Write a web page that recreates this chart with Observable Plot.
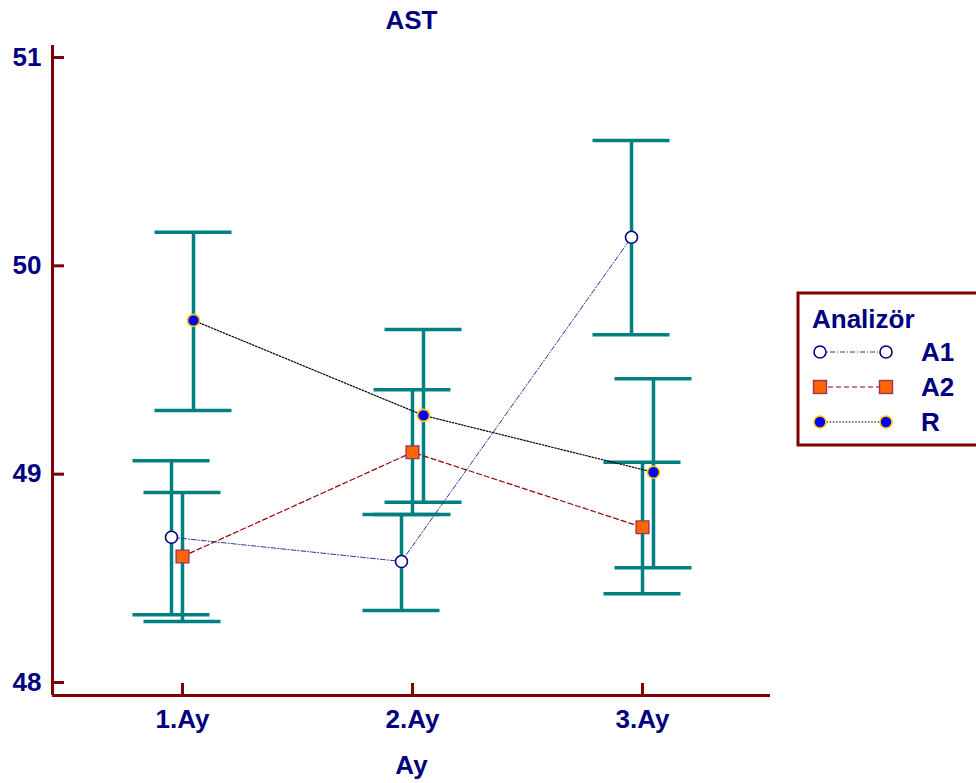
<!DOCTYPE html>
<html><head><meta charset="utf-8">
<script src="https://cdn.jsdelivr.net/npm/d3@7"></script>
<script src="https://cdn.jsdelivr.net/npm/@observablehq/plot@0.6"></script>
<style>
body{margin:0;background:#fff;}
#wrap{position:relative;width:976px;height:783px;overflow:hidden;background:#fff;}
#wrap svg{position:absolute;left:0;top:0;}
</style></head><body><div id="wrap"></div>
<script>
// ---- data ----
const months = ["1.Ay", "2.Ay", "3.Ay"];
const yTicks = [48, 49, 50, 51];
const seriesNames = ["A1", "A2", "R"];
const a1Mean = [48.697, 48.581, 50.137];
const a1Low  = [48.325, 48.346, 49.669];
const a1High = [49.064, 48.806, 50.602];
const a2Mean = [48.605, 49.105, 48.745];
const a2Low  = [48.293, 48.806, 48.426];
const a2High = [48.912, 49.405, 49.057];
const rMean  = [49.738, 49.282, 49.009];
const rLow   = [49.306, 48.865, 48.551];
const rHigh  = [50.161, 49.694, 49.458];
const titleText = "AST";
const xLabel = "Ay";
const legendTitle = "Analizör";

// ---- build tables ----
function table(mean, lo, hi, name) {
  return months.map((m, k) => ({i: k + 1, month: m, mean: mean[k], lo: lo[k], hi: hi[k], series: name}));
}
const data = {
  A1: table(a1Mean, a1Low, a1High, "A1"),
  A2: table(a2Mean, a2Low, a2High, "A2"),
  R: table(rMean, rLow, rHigh, "R")
};

// ---- styles ----
const navy = "#000080", axisRed = "#800000", teal = "#008080";
const fontFam = "Arial, 'Liberation Sans', Helvetica, sans-serif";
const style = {
  A1: {dx: -11, line: {stroke: "#3030a8", strokeWidth: 1, strokeDasharray: "5,2,1,2"},
       dot: {symbol: "circle", r: 6, fill: "white", stroke: navy, strokeWidth: 1.6}},
  A2: {dx: 0, line: {stroke: "#990000", strokeWidth: 1.2, strokeDasharray: "5,3"},
       dot: {symbol: "square", r: 7.2, fill: "#ff6600", stroke: "#993366", strokeWidth: 1.4}},
  R:  {dx: 11, line: {stroke: "#000000", strokeWidth: 1.2, strokeDasharray: "1.6,1.6"},
       dot: {symbol: "circle", r: 6, fill: "#0000ff", stroke: "#ffcc00", strokeWidth: 1.6}}
};

const W = 976, H = 783;
const mL = 52, mR = 206, mT = 45, mB = 88;
const step = 230;               // px between months
const firstX = 182;             // px of first month
const xDom = [1 - (firstX - mL) / step, 1 + (W - mR - firstX) / step];
const pxPerUnit = 208.33;
const yDom = [48 - (H - mB - 682) / pxPerUnit, 51 + (57 - mT) / pxPerUnit];
const capHalf = 38.5 / step;

const bars = [], lines = [], dots = [];
for (const s of seriesNames) {
  const st = style[s], d = data[s];
  const eb = {stroke: teal, strokeWidth: 3.5, dx: st.dx};
  bars.push(Plot.ruleX(d, {x: "i", y1: "lo", y2: "hi", ...eb}));
  bars.push(Plot.ruleY(d, {y: "lo", x1: r => r.i - capHalf, x2: r => r.i + capHalf, ...eb}));
  bars.push(Plot.ruleY(d, {y: "hi", x1: r => r.i - capHalf, x2: r => r.i + capHalf, ...eb}));
  lines.push(Plot.line(d, {x: "i", y: "mean", dx: st.dx, ...st.line}));
  dots.push(Plot.dot(d, {x: "i", y: "mean", dx: st.dx, ...st.dot}));
}

const txt = {fill: navy, fontWeight: "bold", fontFamily: fontFam};

const chart = Plot.plot({
  width: W, height: H,
  marginLeft: mL, marginRight: mR, marginTop: mT, marginBottom: mB,
  style: {fontFamily: fontFam, background: "white", overflow: "visible"},
  x: {type: "linear", domain: xDom},
  y: {type: "linear", domain: yDom},
  marks: [
    ...bars,
    ...lines,
    ...dots,
    Plot.ruleX([xDom[0]], {stroke: axisRed, strokeWidth: 3}),
    Plot.ruleY([yDom[0]], {stroke: axisRed, strokeWidth: 3}),
    Plot.axisY(yTicks, {tickSize: 12, dx: 12, fill: "none", stroke: axisRed, strokeWidth: 3, label: null}),
    Plot.axisY(yTicks, {tickSize: 0, tickPadding: 11, tickFormat: v => String(v), fontSize: 26, label: null, ...txt}),
    Plot.axisX([1, 2, 3], {tickSize: 12, dy: -12, fill: "none", stroke: axisRed, strokeWidth: 3, label: null}),
    Plot.axisX([1, 2, 3], {tickSize: 0, tickPadding: 14, tickFormat: v => months[v - 1], fontSize: 26, label: null, ...txt}),
    Plot.text([xLabel], {text: d => d, frameAnchor: "bottom", dy: 70, fontSize: 26, lineAnchor: "middle", ...txt}),
    Plot.text([titleText], {text: d => d, frameAnchor: "top", dy: -25, fontSize: 26, lineAnchor: "middle", ...txt})
  ]
});
document.getElementById("wrap").appendChild(chart);

// ---- legend ----
const lg = d3.select("#wrap").append("svg").attr("width", W).attr("height", H)
  .style("pointer-events", "none");
lg.append("rect").attr("x", 798).attr("y", 293).attr("width", 200).attr("height", 152)
  .attr("fill", "white").attr("stroke", axisRed).attr("stroke-width", 3);
lg.append("text").attr("x", 812).attr("y", 328).text(legendTitle)
  .attr("fill", navy).attr("font-weight", "bold").attr("font-size", 26).attr("font-family", fontFam);
seriesNames.forEach((s, k) => {
  const st = style[s], y = 352 + k * 35;
  const g = lg.append("g");
  g.append("line").attr("x1", 820).attr("x2", 886).attr("y1", y).attr("y2", y)
    .attr("stroke", st.line.stroke).attr("stroke-width", st.line.strokeWidth)
    .attr("stroke-dasharray", st.line.strokeDasharray);
  for (const cx of [820, 886]) {
    if (st.dot.symbol === "square") {
      g.append("rect").attr("x", cx - 6.5).attr("y", y - 6.5).attr("width", 13).attr("height", 13)
        .attr("fill", st.dot.fill).attr("stroke", st.dot.stroke).attr("stroke-width", st.dot.strokeWidth);
    } else {
      g.append("circle").attr("cx", cx).attr("cy", y).attr("r", st.dot.r)
        .attr("fill", st.dot.fill).attr("stroke", st.dot.stroke).attr("stroke-width", st.dot.strokeWidth);
    }
  }
  g.append("text").attr("x", 921).attr("y", y + 9).text(s)
    .attr("fill", navy).attr("font-weight", "bold").attr("font-size", 26).attr("font-family", fontFam);
});
</script></body></html>
